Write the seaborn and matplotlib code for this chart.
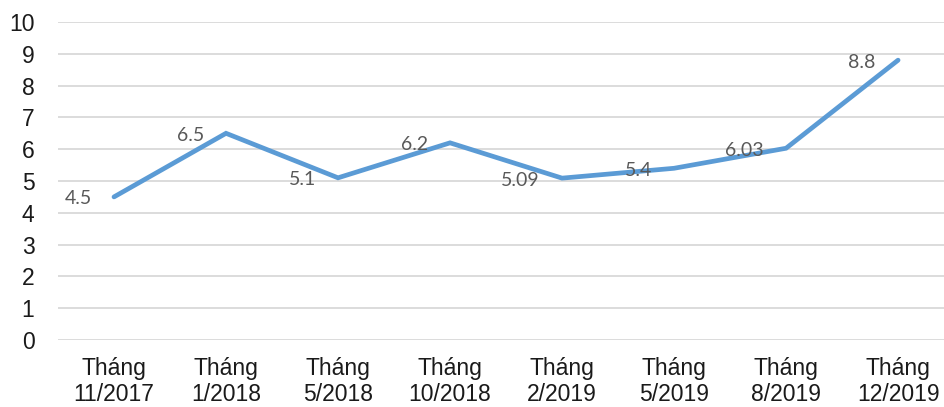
import matplotlib
matplotlib.use("Agg")
import matplotlib.pyplot as plt
import seaborn as sns
import pandas as pd

categories = ["Tháng\n11/2017", "Tháng\n1/2018", "Tháng\n5/2018", "Tháng\n10/2018",
              "Tháng\n2/2019", "Tháng\n5/2019", "Tháng\n8/2019", "Tháng\n12/2019"]
values = [4.5, 6.5, 5.1, 6.2, 5.09, 5.4, 6.03, 8.8]
value_labels = ["4.5", "6.5", "5.1", "6.2", "5.09", "5.4", "6.03", "8.8"]
y_ticks = list(range(0, 11))

sns.set_theme(style="white")
plt.rcParams['font.family'] = ['Liberation Sans', 'DejaVu Sans']

df = pd.DataFrame({"x": range(len(categories)), "v": values})

fig = plt.figure(figsize=(9.44, 4.07), dpi=100)
ax = fig.add_axes([58/944, 67/407, 1 - 58/944, (340-22)/407])

sns.lineplot(data=df, x="x", y="v", ax=ax, color="#5B9BD5", linewidth=3.4,
             solid_joinstyle="miter", solid_capstyle="round")

ax.set_ylim(0, 10)
ax.set_xlim(-0.5, 7.41)
ax.set_yticks(y_ticks)
ax.set_yticklabels([str(t) for t in y_ticks])
ax.set_xticks(range(len(categories)))
ax.set_xticklabels(categories, linespacing=1.2)
ax.tick_params(axis='y', labelsize=16.5, pad=17, length=0)
ax.tick_params(axis='x', labelsize=16.5, pad=12, length=0)
for lab in ax.get_yticklabels() + ax.get_xticklabels():
    lab.set_color("#1a1a1a")

ax.grid(axis='y', color="#D9D9D9", linewidth=1.3)
ax.grid(axis='x', visible=False)
ax.set_axisbelow(True)
for s in ax.spines.values():
    s.set_visible(False)
ax.set_xlabel("")
ax.set_ylabel("")

for i, (v, t) in enumerate(zip(values, value_labels)):
    ax.annotate(t, (i, v), xytext=(-16, -1.5), textcoords="offset points",
                ha="right", va="center", fontsize=14, color="#595959",
                family=["Lato", "DejaVu Sans"])

fig.savefig("out.png", dpi=100)
